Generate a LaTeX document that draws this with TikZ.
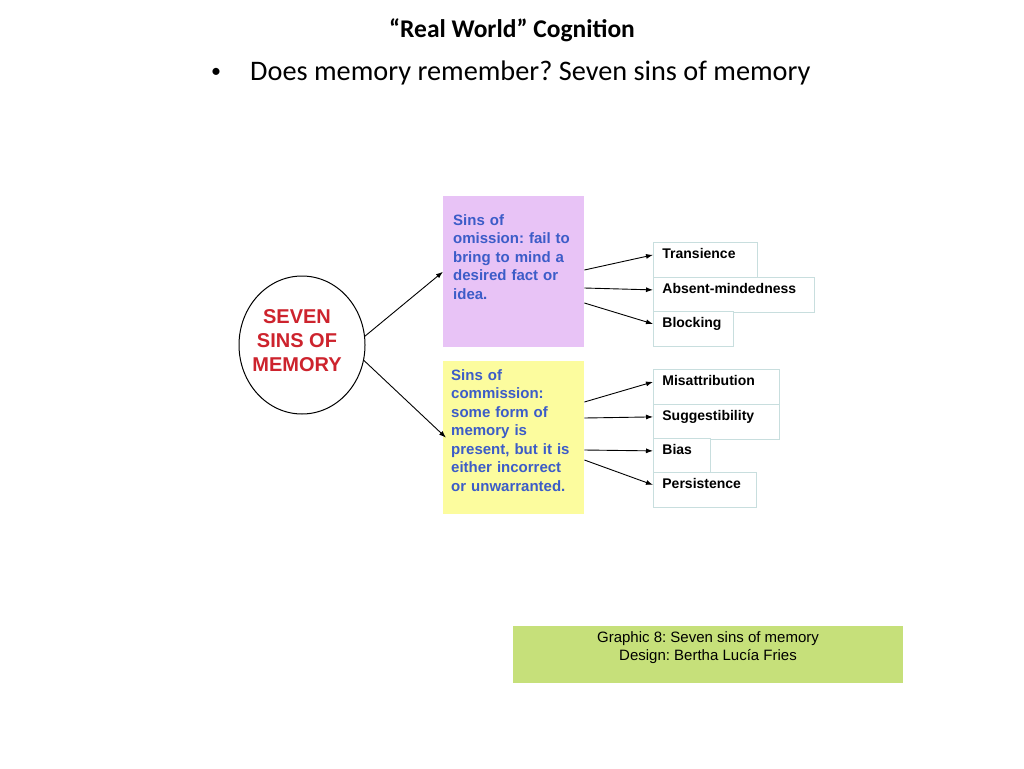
\documentclass[tikz,border=0pt]{standalone}
\usepackage{fontspec}
\setmainfont{Liberation Sans}
\newfontfamily\slidefont{Carlito}
\usetikzlibrary{arrows.meta,shapes.geometric}
\frenchspacing

\definecolor{omitcol}{RGB}{232,195,246}
\definecolor{commitcol}{RGB}{252,252,158}
\definecolor{capcol}{RGB}{198,224,122}
\definecolor{sinblue}{RGB}{60,92,200}
\definecolor{sinred}{RGB}{205,35,45}
\definecolor{labline}{RGB}{200,222,222}

\tikzset{
  arr/.style={-{Latex[length=7pt,width=5pt]}, black, line width=0.9pt},
  sinbox/.style={anchor=north west, inner sep=0pt},
  sintext/.style={anchor=base west, inner sep=0pt, text width=135pt, align=left,
    font=\bfseries\fontsize{15}{18.5}\selectfont, text=sinblue},
  labbox/.style={anchor=north west, draw=labline, line width=0.8pt, fill=white,
    inner xsep=9pt, inner ysep=3pt, text height=13pt, text depth=16pt,
    text width=#1, align=left, font=\bfseries\fontsize{14}{16}\selectfont}
}

\begin{document}
\begin{tikzpicture}[x=1pt, y=-1pt]
        \fill[white] (0,0) rectangle (1024,768);
        \useasboundingbox (0,0) rectangle (1024,768);

        % Heading
        \node[font=\slidefont\bfseries\fontsize{25.5}{30}\selectfont] (title) at (512,30) {“Real World” Cognition};
        \node[font=\slidefont\fontsize{20}{24}\selectfont] (bullet) at (216,73) {•};
        \node[anchor=west, inner sep=0pt, font=\slidefont\fontsize{28.3}{32}\selectfont] (line) at (250,73) {Does memory remember? Seven sins of memory};

        % Circle
        \node[ellipse, draw, line width=1pt, inner sep=0pt, minimum width=126pt, minimum height=138pt] (circ) at (302,345) {};
        \node[align=center, font=\bfseries\fontsize{20}{24}\selectfont, text=sinred] (circtxt) at (297,341) {SEVEN\\SINS OF\\MEMORY};

        % Sins of omission
        \node[sinbox, fill=omitcol, minimum width=141pt, minimum height=151pt] (omit) at (443,196) {};
        \node[sintext] (omittxt) at (453,225) {Sins of\\omission: fail to\\bring to mind a\\desired fact or\\idea.};

        % Sins of commission
        \node[sinbox, fill=commitcol, minimum width=141pt, minimum height=153pt] (commit) at (443,361) {};
        \node[sintext] (committxt) at (451,380) {Sins of\\commission:\\some form of\\memory is\\present, but it is\\either incorrect\\or unwarranted.};

        % Arrows from the circle
        \draw[arr] (circ.8) -- (omit.west);
        \draw[arr] (circ.-14) -- ([xshift=3pt]commit.west);

        % The seven sins
        \node[labbox=86pt] (trans) at (653,242) {Transience};
        \node[labbox=143pt] (absent) at (653,277) {Absent-mindedness};
        \node[labbox=62pt] (block) at (653,311) {Blocking};
        \node[labbox=108pt] (misatt) at (653,369) {Misattribution};
        \node[labbox=108pt] (sugg) at (653,404) {Suggestibility};
        \node[labbox=39pt] (bias) at (653,438) {Bias};
        \node[labbox=85pt] (persist) at (653,472) {Persistence};

        % Arrows to the sins
        \draw[arr] ([shift={(0,74)}]omit.north east) -- ([yshift=5pt]trans.west);
        \draw[arr] ([shift={(0,92)}]omit.north east) -- ([yshift=5pt]absent.west);
        \draw[arr] ([shift={(0,107)}]omit.north east) -- ([yshift=5pt]block.west);
        \draw[arr] ([shift={(0,41)}]commit.north east) -- ([yshift=5pt]misatt.west);
        \draw[arr] ([shift={(0,57)}]commit.north east) -- ([yshift=5pt]sugg.west);
        \draw[arr] ([shift={(0,89)}]commit.north east) -- ([yshift=5pt]bias.west);
        \draw[arr] ([shift={(0,99)}]commit.north east) -- ([yshift=5pt]persist.west);

        % Caption
        \node[sinbox, fill=capcol, minimum width=390pt, minimum height=57pt] (cap) at (513,626) {};
        \node[align=center, font=\fontsize{15}{18}\selectfont] (captxt) at (708,648) {Graphic 8: Seven sins of memory\\Design: Bertha Lucía Fries};

    \end{tikzpicture}
\end{document}
